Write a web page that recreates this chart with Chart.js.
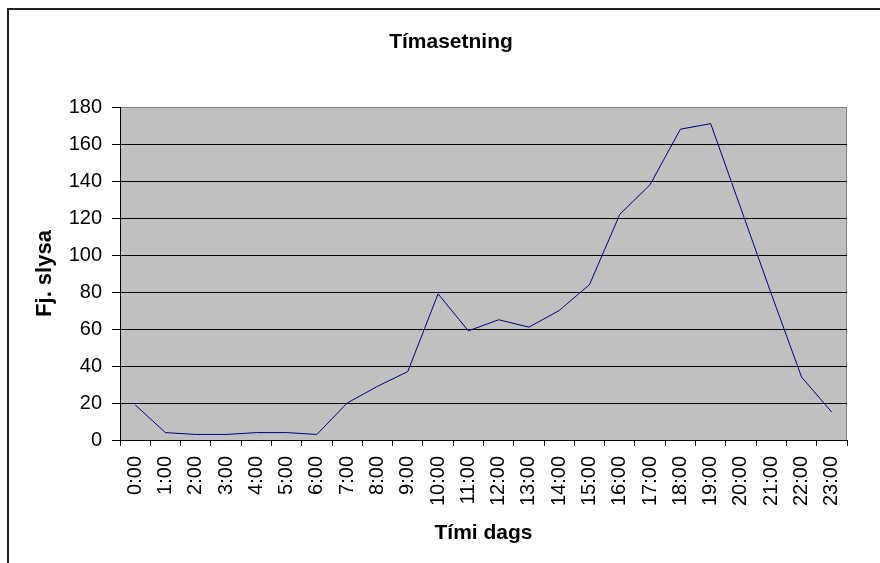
<!DOCTYPE html>
<html>
<head>
<meta charset="utf-8">
<script src="https://cdn.jsdelivr.net/npm/chart.js@4.4.1/dist/chart.umd.min.js"></script>
<style>
  html, body { margin: 0; padding: 0; background: #fff; }
  canvas { display: block; }
</style>
</head>
<body>
<canvas id="chart" width="880" height="563"></canvas>
<script>
// gögn
const klukkustundir = ["0:00", "1:00", "2:00", "3:00", "4:00", "5:00", "6:00", "7:00",
  "8:00", "9:00", "10:00", "11:00", "12:00", "13:00", "14:00", "15:00",
  "16:00", "17:00", "18:00", "19:00", "20:00", "21:00", "22:00", "23:00"];
const slys = [19, 4, 3, 3, 4, 4, 3, 20, 29, 37, 79, 59, 65, 61, 70, 84,
  122, 138, 168, 171, 125, 79, 34, 15];
const yMin = 0;
const yMax = 180;
const yStep = 20;

// grár bakgrunnur og rammi
const bakgrunnur = {
  id: "bakgrunnur",
  beforeDraw(chart) {
    const ctx = chart.ctx;
    const a = chart.chartArea;
    ctx.save();
    ctx.fillStyle = "#fff";
    ctx.fillRect(0, 0, chart.width, chart.height);
    // ytri rammi
    ctx.strokeStyle = "#222";
    ctx.lineWidth = 2;
    ctx.beginPath();
    ctx.moveTo(8, chart.height + 5);
    ctx.lineTo(8, 9);
    ctx.lineTo(chart.width + 5, 9);
    ctx.stroke();
    // teiknisvæði
    ctx.fillStyle = "#c0c0c0";
    ctx.fillRect(a.left, a.top, a.right - a.left, a.bottom - a.top);
    ctx.strokeStyle = "#808080";
    ctx.lineWidth = 1;
    ctx.beginPath();
    ctx.moveTo(a.left, a.top + 0.5);
    ctx.lineTo(a.right - 0.5, a.top + 0.5);
    ctx.lineTo(a.right - 0.5, a.bottom);
    ctx.stroke();
    ctx.restore();
  }
};

const ctx = document.getElementById("chart").getContext("2d");
new Chart(ctx, {
  type: "line",
  data: {
    labels: klukkustundir,
    datasets: [{
      label: "Fj. slysa",
      data: slys,
      borderColor: "#000080",
      borderWidth: 1,
      pointRadius: 0,
      tension: 0,
      fill: false
    }]
  },
  options: {
    responsive: false,
    animation: false,
    layout: { padding: { left: 55, right: 33, top: 0, bottom: 0 } },
    plugins: {
      legend: { display: false },
      tooltip: { enabled: false },
      title: {
        display: true,
        text: "Tímasetning",
        color: "#000",
        font: { family: "Liberation Sans", size: 21, weight: "bold", lineHeight: 1.2 },
        padding: { top: 30, bottom: 51.8 }
      }
    },
    scales: {
      x: {
        offset: true,
        afterFit(scale) { scale.height = 123; },
        grid: {
          offset: true,
          drawOnChartArea: false,
          drawTicks: true,
          tickLength: 6,
          color: "#000"
        },
        border: { color: "#000", width: 1 },
        ticks: {
          autoSkip: false,
          maxRotation: 90,
          minRotation: 90,
          padding: 10,
          color: "#000",
          font: { family: "Liberation Sans", size: 20 }
        },
        title: {
          display: true,
          text: "Tími dags",
          color: "#000",
          font: { family: "Liberation Sans", size: 21, weight: "bold", lineHeight: 1.2 },
          padding: { top: 0, bottom: 17.4 }
        }
      },
      y: {
        min: yMin,
        max: yMax,
        afterFit(scale) { scale.width = 65; },
        grid: {
          color: (c) => (c.tick && c.tick.value === yMax ? "#808080" : "#000"),
          tickColor: "#000",
          tickLength: 8,
          drawTicks: true
        },
        border: { color: "#000", width: 1 },
        ticks: {
          stepSize: yStep,
          padding: 10,
          color: "#000",
          font: { family: "Liberation Sans", size: 20 }
        },
        title: {
          display: true,
          text: "Fj. slysa",
          color: "#000",
          font: { family: "Liberation Sans", size: 22, weight: "bold", lineHeight: 1.2 },
          padding: { top: -23.2, bottom: 0 }
        }
      }
    }
  },
  plugins: [bakgrunnur]
});
</script>
</body>
</html>
